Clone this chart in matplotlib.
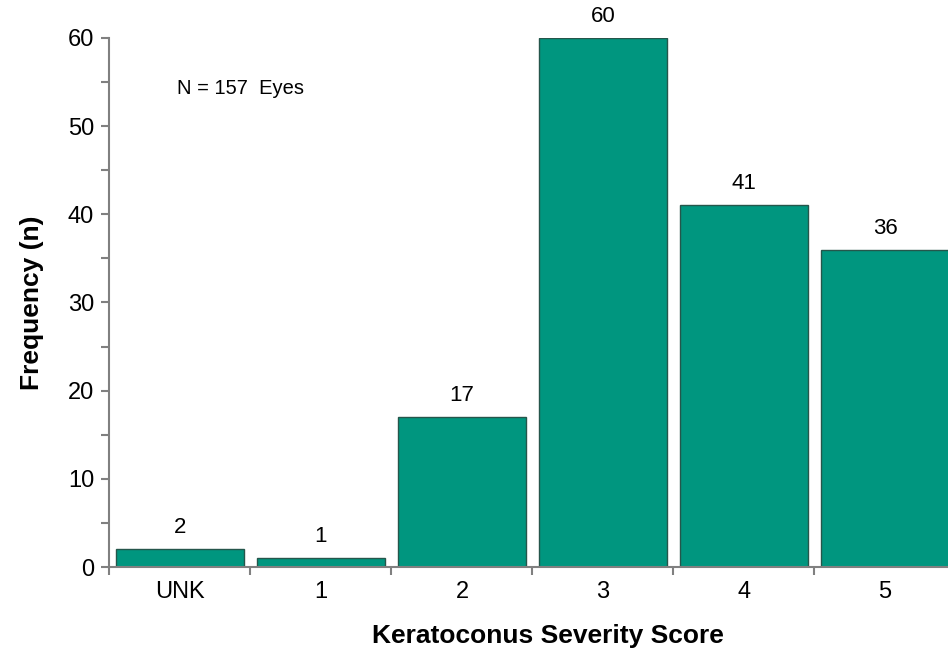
import matplotlib
matplotlib.use("Agg")
import matplotlib.pyplot as plt
import numpy as np

categories = ["UNK", "1", "2", "3", "4", "5"]
counts = [2, 1, 17, 60, 41, 36]

plt.rcParams['font.family'] = ['Liberation Sans', 'DejaVu Sans']

fig = plt.figure(figsize=(9.48, 6.54), dpi=100)
# axes runs slightly past the right edge of the figure, as in the reference
ax = fig.add_axes([0.1155, 0.133, 0.8924, 0.809])

x = np.arange(len(categories))
bars = ax.bar(x, counts, width=0.908, color='#00967f', edgecolor='#25564b', linewidth=1.0, zorder=2)

for xi, v in zip(x, counts):
    ax.text(xi, v + 1.25, str(v), ha='center', va='bottom', fontsize=16)

ax.set_xlim(-0.5, len(categories) - 0.5)
ax.set_ylim(0, 60)
ax.set_yticks(np.arange(0, 61, 10))
ax.set_yticks(np.arange(5, 60, 10), minor=True)
ax.set_xticks(x)
ax.set_xticklabels(categories)
ax.set_xticks(np.arange(-0.5, len(categories), 1), minor=True)

ax.tick_params(axis='x', which='major', length=0, pad=10, labelsize=17)
ax.tick_params(axis='x', which='minor', length=6, width=1.5, color='#808080', direction='out')
ax.tick_params(axis='y', which='both', length=6, width=1.5, color='#808080', direction='out', labelsize=17, pad=5)

for s in ['top', 'right']:
    ax.spines[s].set_visible(False)
for s in ['left', 'bottom']:
    ax.spines[s].set_color('#808080')
    ax.spines[s].set_linewidth(1.5)

ax.set_ylabel("Frequency (n)", fontsize=19, fontweight='bold')
ax.yaxis.set_label_coords(-0.078, 0.5)
ax.set_xlabel("Keratoconus Severity Score", fontsize=19, fontweight='bold', va='top')
ax.xaxis.set_label_coords(0.518, -0.108)

ax.text(0.080, 0.905, "N = 157  Eyes", transform=ax.transAxes, fontsize=14.5, ha='left', va='center')

plt.savefig("out.png", dpi=100)
